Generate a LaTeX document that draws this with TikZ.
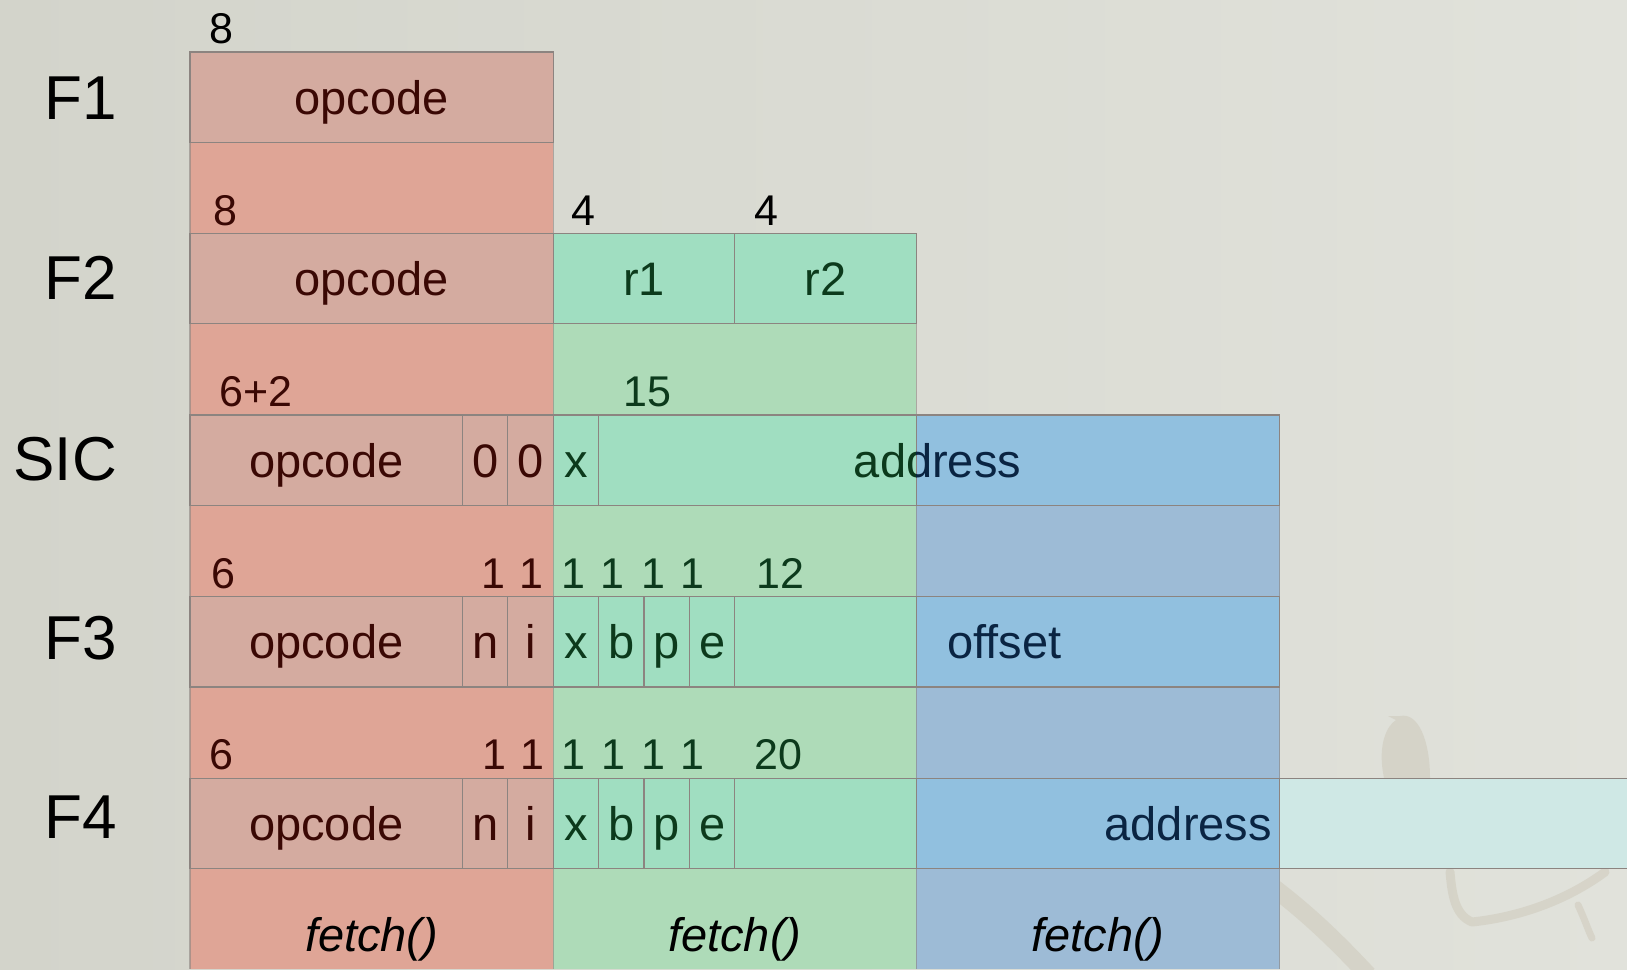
\documentclass[tikz,border=0pt]{standalone}
\usepackage{fontspec}
\setmainfont{Liberation Sans}
\definecolor{bgcol}{HTML}{DCDDD5}
\definecolor{bgdark}{HTML}{D3D4CB}
\definecolor{bglight}{HTML}{E1E2DB}
\definecolor{redfield}{HTML}{D4ABA0}
\definecolor{redband}{HTML}{DFA596}
\definecolor{greenfield}{HTML}{A0DEC1}
\definecolor{greenband}{HTML}{AEDBB8}
\definecolor{bluefield}{HTML}{91C0DF}
\definecolor{blueband}{HTML}{9DBBD6}
\definecolor{cyanfield}{HTML}{CFE8E5}
\definecolor{redtxt}{HTML}{3A0804}
\definecolor{greentxt}{HTML}{0C3A1C}
\definecolor{bluetxt}{HTML}{0A2442}
\definecolor{edge}{HTML}{8C8480}
\definecolor{birdcol}{HTML}{CBC5B5}
\begin{document}
\begin{tikzpicture}[x=1pt,y=-1pt,
  fld/.style={draw=edge, line width=1.3pt, inner sep=0pt, outer sep=0pt,
    anchor=north west, minimum height=90.3pt,
    text height=34.2pt, text depth=0pt, font=\fontsize{47}{50}\selectfont},
  redf/.style={fld, fill=redfield, text=redtxt},
  greenf/.style={fld, fill=greenfield, text=greentxt},
  bluef/.style={fld, fill=bluefield, text=bluetxt},
  cyanf/.style={fld, fill=cyanfield},
  bit/.style={minimum width=45.4pt},
  num/.style={anchor=base, inner sep=0pt, font=\fontsize{43}{45}\selectfont},
  fmt/.style={anchor=base east, inner sep=0pt, font=\fontsize{62}{64}\selectfont},
  fieldtxt/.style={inner sep=0pt, font=\fontsize{47}{50}\selectfont},
  fetchtxt/.style={anchor=base, inner sep=0pt, font=\fontsize{47}{50}\selectfont\itshape},
  band/.style={draw=edge, draw opacity=0.6, line width=1.3pt}]

\useasboundingbox (0,0) rectangle (1627,969);

% textured backdrop
\shade[left color=bgdark, right color=bglight] (0,0) rectangle (1627,969);

% faint bird on a branch in the lower right of the backdrop
\begin{scope}[birdcol, opacity=0.45]
  \fill (1384,778) .. controls (1378,750) and (1384,728) .. (1396,720)
        -- (1388,716) -- (1400,716)
        .. controls (1418,712) and (1430,740) .. (1430,778) -- cycle;
  \draw[line width=9pt, line cap=round, line join=round]
    (1450,872) .. controls (1452,895) and (1455,915) .. (1472,922)
    .. controls (1510,918) and (1560,905) .. (1605,872);
  \draw[line width=7pt, line cap=round] (1578,905) .. controls (1585,920) and (1588,930) .. (1592,938);
  \draw[line width=18pt] (1270,885) .. controls (1310,915) and (1340,945) .. (1368,975);
\end{scope}

% column bands below each format row
\fill[redband]   (190,142.2) rectangle (553.2,969);
\fill[greenband] (553.2,323.8) rectangle (916.4,969);
\fill[blueband]  (916.4,505.3) rectangle (1279.6,969);
\draw[band] (190,142.2) -- (190,969);
\draw[band] (553.2,142.2) -- (553.2,969);
\draw[band] (916.4,323.8) -- (916.4,969);
\draw[band] (1279.6,505.3) -- (1279.6,969);

% format names
\node[fmt] (lF1)  at (117,119) {F1};
\node[fmt] (lF2)  at (117,299.5) {F2};
\node[fmt] (lSIC) at (117,480) {SIC};
\node[fmt] (lF3)  at (117,659) {F3};
\node[fmt] (lF4)  at (117,838) {F4};

% F1
\node[num] (n11) at (221,43.6) {8};
\node[redf, minimum width=363.2pt] (f1op) at (190,51.9) {opcode};

% F2
\node[num, text=redtxt] (n21) at (225,225.2) {8};
\node[num] (n22) at (583,225.2) {4};
\node[num] (n23) at (766,225.2) {4};
\node[redf, minimum width=363.2pt] (f2op) at (190,233.5) {opcode};
\node[greenf, minimum width=181.6pt] (f2r1) at (553.2,233.5) {r1};
\node[greenf, minimum width=181.6pt] (f2r2) at (734.8,233.5) {r2};

% SIC
\node[num, text=redtxt] (n31) at (256,406.7) {6+2};
\node[num, text=greentxt] (n32) at (647.5,406.7) {15};
\node[redf, minimum width=272.4pt] (sop) at (190,415) {opcode};
\node[redf, bit] (sz1) at (462.4,415) {0};
\node[redf, bit] (sz2) at (507.8,415) {0};
\node[greenf, bit] (sx) at (553.2,415) {x};
\node[greenf, minimum width=317.8pt] (sadg) at (598.6,415) {};
\node[bluef, minimum width=363.2pt] (sadb) at (916.4,415) {};
\begin{scope}
  \clip (553.2,415) rectangle (916.4,505.3);
  \node[fieldtxt, text=greentxt, anchor=base] (saddr) at (937.5,477.2) {address};
\end{scope}
\begin{scope}
  \clip (916.4,415) rectangle (1279.6,505.3);
  \node[fieldtxt, text=bluetxt, anchor=base] (saddrb) at (937.5,477.2) {address};
\end{scope}

% F3
\node[num, text=redtxt] (n41) at (223,588.3) {6};
\node[num, text=redtxt] (n42) at (493,588.3) {1};
\node[num, text=redtxt] (n43) at (531,588.3) {1};
\node[num, text=greentxt] (n44) at (573,588.3) {1};
\node[num, text=greentxt] (n45) at (612,588.3) {1};
\node[num, text=greentxt] (n46) at (653,588.3) {1};
\node[num, text=greentxt] (n47) at (692,588.3) {1};
\node[num, text=greentxt] (n48) at (780,588.3) {12};
\node[redf, minimum width=272.4pt] (f3op) at (190,596.6) {opcode};
\node[redf, bit] (f3n) at (462.4,596.6) {n};
\node[redf, bit] (f3i) at (507.8,596.6) {i};
\node[greenf, bit] (f3x) at (553.2,596.6) {x};
\node[greenf, bit] (f3b) at (598.6,596.6) {b};
\node[greenf, bit] (f3p) at (644,596.6) {p};
\node[greenf, bit] (f3e) at (689.4,596.6) {e};
\node[greenf, minimum width=181.6pt] (f3dg) at (734.8,596.6) {};
\node[bluef, minimum width=363.2pt] (f3db) at (916.4,596.6) {};
\node[fieldtxt, text=bluetxt, anchor=base west] (f3off) at (947.3,658.8) {offset};

% F4
\node[num, text=redtxt] (n51) at (221,769.9) {6};
\node[num, text=redtxt] (n52) at (494,769.9) {1};
\node[num, text=redtxt] (n53) at (532,769.9) {1};
\node[num, text=greentxt] (n54) at (573,769.9) {1};
\node[num, text=greentxt] (n55) at (613,769.9) {1};
\node[num, text=greentxt] (n56) at (653,769.9) {1};
\node[num, text=greentxt] (n57) at (692,769.9) {1};
\node[num, text=greentxt] (n58) at (778,769.9) {20};
\node[redf, minimum width=272.4pt] (f4op) at (190,778.2) {opcode};
\node[redf, bit] (f4n) at (462.4,778.2) {n};
\node[redf, bit] (f4i) at (507.8,778.2) {i};
\node[greenf, bit] (f4x) at (553.2,778.2) {x};
\node[greenf, bit] (f4b) at (598.6,778.2) {b};
\node[greenf, bit] (f4p) at (644,778.2) {p};
\node[greenf, bit] (f4e) at (689.4,778.2) {e};
\node[greenf, minimum width=181.6pt] (f4dg) at (734.8,778.2) {};
\node[bluef, minimum width=363.2pt] (f4db) at (916.4,778.2) {};
\node[cyanf, minimum width=360pt] (f4dc) at (1279.6,778.2) {};
\node[fieldtxt, text=bluetxt, anchor=base east] (f4addr) at (1272,840.4) {address};

% fetch labels along the bottom
\node[fetchtxt] (fe1) at (371.6,951) {fetch()};
\node[fetchtxt] (fe2) at (734.8,951) {fetch()};
\node[fetchtxt] (fe3) at (1098,951) {fetch()};
\end{tikzpicture}
\end{document}
